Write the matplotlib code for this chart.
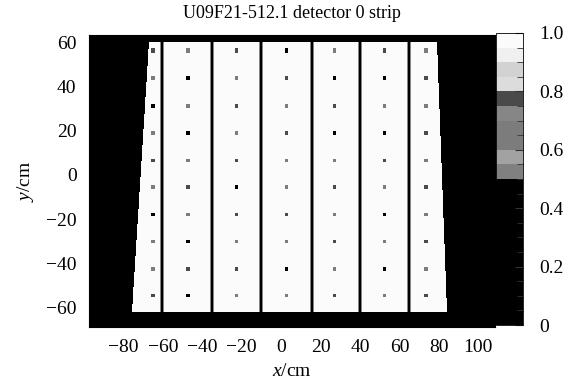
import numpy as np
import matplotlib
matplotlib.use("Agg")
import matplotlib.pyplot as plt
from matplotlib.colors import ListedColormap, BoundaryNorm

plt.rcParams['font.family'] = ['Liberation Serif', 'DejaVu Serif']
plt.rcParams['mathtext.fontset'] = 'custom'
plt.rcParams['mathtext.rm'] = 'Liberation Serif'
plt.rcParams['mathtext.it'] = 'Liberation Serif:italic'

title = "U09F21-512.1 detector 0 strip"

# detector outline (cm)
top_y = 60.0
bottom_y = -62.0
left_x = [-67.0, -75.5]    # at top, at bottom
right_x = [79.0, 84.0]     # at top, at bottom

# dead gaps between the 7 strips (cm)
gap_x = [-60.3, -35.0, -10.1, 15.4, 40.2, 65.1]
gap_w = 1.0

# low-efficiency spots (spacers) on a grid
dot_x = [-65.0, -47.5, -22.7, 2.6, 27.4, 52.2, 73.5]
dot_y = [56.0, 43.5, 31.0, 18.6, 6.3, -5.9, -18.2, -30.4, -42.7, -54.8]
dot_eff = [
    [0.78, 0.62, 0.78, 0.30, 0.62, 0.78, 0.62],
    [0.62, 0.30, 0.62, 0.78, 0.30, 0.30, 0.78],
    [0.30, 0.62, 0.78, 0.62, 0.78, 0.62, 0.62],
    [0.62, 0.30, 0.62, 0.78, 0.30, 0.30, 0.78],
    [0.78, 0.62, 0.78, 0.62, 0.62, 0.78, 0.62],
    [0.62, 0.78, 0.30, 0.62, 0.78, 0.62, 0.78],
    [0.30, 0.62, 0.78, 0.78, 0.62, 0.30, 0.62],
    [0.62, 0.30, 0.62, 0.62, 0.78, 0.62, 0.78],
    [0.62, 0.78, 0.78, 0.30, 0.62, 0.30, 0.62],
    [0.78, 0.30, 0.62, 0.62, 0.78, 0.62, 0.78],
]
eff_body = 0.98
eff_gap = 0.2
eff_gap_edge = 0.72

# colour scale
levels = [0.0, 0.5, 0.55, 0.6, 0.65, 0.7, 0.75, 0.8, 0.85, 0.9, 0.95, 1.0]
grays = ['#000000', '#808080', '#a2a2a2', '#7c7c7c', '#7c7c7c', '#868686',
         '#4a4a4a', '#dcdcdc', '#d2d2d2', '#f0f0f0', '#fbfbfb']
cbar_ticks = [0, 0.2, 0.4, 0.6, 0.8, 1.0]
cbar_labels = ['0', '0.2', '0.4', '0.6', '0.8', '1.0']

xlim = (-97.5, 108.5)
ylim = (-69.0, 63.5)
step = 0.5

xc = np.arange(xlim[0] + step / 2, xlim[1], step)
yc = np.arange(ylim[0] + step / 2, ylim[1], step)
X, Y = np.meshgrid(xc, yc)
t = (top_y - Y) / (top_y - bottom_y)
lx = left_x[0] + t * (left_x[1] - left_x[0])
rx = right_x[0] + t * (right_x[1] - right_x[0])
inside = (Y <= top_y) & (Y >= bottom_y) & (X >= lx) & (X <= rx)

Z = np.zeros_like(X)
Z[inside] = eff_body
for g in gap_x:
    Z[inside & (np.abs(X - g) <= gap_w / 2 + step)] = eff_gap_edge
    Z[inside & (np.abs(X - g) <= gap_w / 2)] = eff_gap
for i, y0 in enumerate(dot_y):
    for j, x0 in enumerate(dot_x):
        spot = inside & (np.abs(X - x0) <= 0.75) & (np.abs(Y - y0) <= 0.75)
        Z[spot] = dot_eff[i][j]

cmap = ListedColormap(grays)
norm = BoundaryNorm(levels, cmap.N)

fig = plt.figure(figsize=(5.69, 3.85), dpi=100)
ax = fig.add_axes([89 / 569, 58 / 385, 406 / 569, 292 / 385])
cax = fig.add_axes([496 / 569, 60 / 385, 27 / 569, 292 / 385])

im = ax.imshow(Z, origin='lower', extent=(xlim[0], xlim[1], ylim[0], ylim[1]),
               cmap=cmap, norm=norm, interpolation='nearest', aspect='auto')
ax.set_xlim(xlim)
ax.set_ylim(ylim)
ax.set_xticks(np.arange(-80, 101, 20))
ax.set_yticks(np.arange(-60, 61, 20))
ax.tick_params(direction='in', length=4, labelsize=14, pad=9)
ax.set_xlabel('$x$/cm', fontsize=14, labelpad=5)
ax.set_ylabel('$y$/cm', fontsize=14, labelpad=7)
ax.set_title(title, fontsize=13, pad=12)

cb = fig.colorbar(im, cax=cax, spacing='proportional', ticks=cbar_ticks)
cb.ax.set_yticklabels(cbar_labels)
cb.ax.set_yticks(np.arange(0, 1.001, 0.05), minor=True)
cb.ax.tick_params(which='major', direction='in', length=6, labelsize=14, pad=12, color='#333333')
cb.ax.tick_params(which='minor', direction='in', length=4, color='#333333')
cb.outline.set_linewidth(0.6)

fig.savefig('out.png', dpi=100)
